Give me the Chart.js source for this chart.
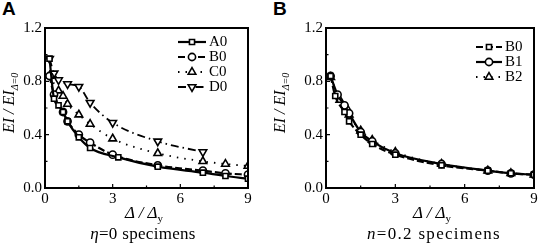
<!DOCTYPE html>
<html>
<head>
<meta charset="utf-8">
<script src="https://cdn.jsdelivr.net/npm/chart.js@4.4.1/dist/chart.umd.min.js"></script>
<style>
  body { margin:0; width:540px; height:251px; background:#fff; overflow:hidden; position:relative; font-family:"Liberation Serif", "Times New Roman", serif; }
  .cv { position:absolute; top:0; }
  .lbl { position:absolute; font-family:"Liberation Sans", Arial, sans-serif; font-weight:bold; font-size:19px; top:-2px; }
  .xt { position:absolute; top:203px; width:200px; text-align:center; font-size:17px; font-style:italic; }
  .xt sub { font-style:normal; font-size:11px; }
  .yt { position:absolute; transform-origin:0 0; white-space:nowrap; font-size:16px; font-style:italic; }
  .yt sub { font-size:10px; }
  .cap { position:absolute; top:224px; width:260px; text-align:center; font-size:17px; letter-spacing:0.3px; }
</style>
</head>
<body>
<div class="lbl" style="left:2px">A</div>
<div class="lbl" style="left:273px">B</div>
<canvas id="chartA" class="cv" style="left:0" width="270" height="210"></canvas>
<canvas id="chartB" class="cv" style="left:270px" width="270" height="210"></canvas>
<div class="yt" style="left:0px;top:133px;transform:rotate(-90deg)">EI / EI<sub>Δ=0</sub></div>
<div class="yt" style="left:271px;top:133px;transform:rotate(-90deg)">EI / EI<sub>Δ=0</sub></div>
<div class="xt" style="left:44px">Δ / Δ<sub>y</sub></div>
<div class="xt" style="left:332px">Δ / Δ<sub>y</sub></div>
<div class="cap" style="left:13px"><i>η</i>=0 specimens</div>
<div class="cap" style="left:304px;letter-spacing:1.3px"><i>n</i>=0.2 specimens</div>
<script>
// panel A (eta = 0)
const a0X = [0.2, 0.4, 0.6, 0.8, 1.0, 1.5, 2, 3.25, 5, 7, 8, 9];
const a0Y = [0.97, 0.67, 0.62, 0.57, 0.50, 0.38, 0.30, 0.23, 0.16, 0.115, 0.09, 0.07];
const b0X = [0.2, 0.4, 0.8, 1.0, 1.5, 2, 3, 5, 7, 8, 9];
const b0Y = [0.84, 0.70, 0.57, 0.50, 0.40, 0.34, 0.25, 0.17, 0.13, 0.11, 0.10];
const c0X = [0.2, 0.6, 0.8, 1.0, 1.5, 2, 3, 5, 7, 8, 9];
const c0Y = [0.84, 0.73, 0.69, 0.63, 0.55, 0.48, 0.37, 0.26, 0.20, 0.18, 0.165];
const d0X = [0.2, 0.4, 0.6, 1.0, 1.5, 2, 3, 5, 7];
const d0Y = [0.97, 0.86, 0.81, 0.78, 0.76, 0.64, 0.49, 0.35, 0.27];
// panel B (n = 0.2)
const bb0X = [0.2, 0.4, 0.8, 1.0, 1.5, 2, 3, 5, 7, 8, 9];
const bb0Y = [0.84, 0.69, 0.57, 0.50, 0.40, 0.33, 0.25, 0.17, 0.13, 0.11, 0.10];
const b1X = [0.2, 0.5, 0.8, 1.0, 1.5, 2, 3, 5, 7, 8, 9];
const b1Y = [0.84, 0.70, 0.62, 0.56, 0.42, 0.35, 0.26, 0.18, 0.13, 0.11, 0.10];
const b2X = [0.2, 0.6, 0.9, 1.0, 1.5, 2, 3, 5, 7, 8, 9];
const b2Y = [0.83, 0.66, 0.60, 0.55, 0.43, 0.36, 0.27, 0.18, 0.13, 0.11, 0.10];

const xTicks = [0, 3, 6, 9];
const yTicks = [0, 0.4, 0.8, 1.2];
const xMinor = [1.5, 4.5, 7.5];
const yMinor = [0.2, 0.6, 1.0];

const FONT = "'Liberation Serif', 'Times New Roman', serif";

function pts(xs, ys) { return xs.map((x, i) => ({x: x, y: ys[i]})); }

function series(label, xs, ys, marker, dash, width) {
    return {
        label: label,
        data: pts(xs, ys),
        borderColor: '#000',
        borderWidth: width,
        borderDash: dash,
        backgroundColor: '#fff',
        pointStyle: marker.style,
        rotation: marker.rot || 0,
        pointRadius: marker.r,
        pointBorderWidth: 1.6,
        pointBackgroundColor: '#fff',
        pointBorderColor: '#000',
        tension: 0.35,
        cubicInterpolationMode: 'monotone',
        fill: false
    };
}

const SQ = {style: 'rect', r: 3.6};
const CI = {style: 'circle', r: 3.6};
const TU = {style: 'triangle', r: 4.4};
const TD = {style: 'triangle', r: 4.4, rot: 180};

// frame, inward ticks and legend
const framePlugin = {
    id: 'frame',
    afterDraw(chart, args, opts) {
        const ctx = chart.ctx;
        const a = chart.chartArea;
        const xs = chart.scales.x, ys = chart.scales.y;
        ctx.save();
        ctx.strokeStyle = '#000';
        ctx.lineWidth = 2;
        ctx.strokeRect(a.left, a.top, a.right - a.left, a.bottom - a.top);
        ctx.lineWidth = 1.2;
        ctx.beginPath();
        xTicks.forEach(v => { const p = xs.getPixelForValue(v); ctx.moveTo(p, a.bottom); ctx.lineTo(p, a.bottom - 4); });
        xMinor.forEach(v => { const p = xs.getPixelForValue(v); ctx.moveTo(p, a.bottom); ctx.lineTo(p, a.bottom - 2.5); });
        yTicks.forEach(v => { const p = ys.getPixelForValue(v); ctx.moveTo(a.left, p); ctx.lineTo(a.left + 4, p); });
        yMinor.forEach(v => { const p = ys.getPixelForValue(v); ctx.moveTo(a.left, p); ctx.lineTo(a.left + 2.5, p); });
        ctx.stroke();

        // legend: line - marker - line, then text
        const lg = opts.legend;
        chart.data.datasets.forEach((ds, i) => {
            const y = lg.y + i * lg.step;
            ctx.strokeStyle = '#000';
            ctx.lineWidth = ds.borderWidth;
            ctx.setLineDash(ds.borderDash || []);
            ctx.beginPath();
            ctx.moveTo(lg.x, y); ctx.lineTo(lg.x + lg.len, y);
            ctx.stroke();
            ctx.setLineDash([]);
            ctx.fillStyle = '#fff';
            ctx.lineWidth = 1.6;
            Chart.helpers.drawPoint(ctx, {pointStyle: ds.pointStyle, rotation: ds.rotation, radius: ds.pointRadius, borderWidth: 1.6},
                lg.x + lg.len / 2, y);
            ctx.fillStyle = '#000';
            ctx.font = '15px ' + FONT;
            ctx.textBaseline = 'middle';
            ctx.fillText(ds.label, lg.x + lg.len + 3, y + 0.5);
        });
        ctx.restore();
    }
};

function makePanel(id, datasets, legend, yWidth, rightPad) {
    return new Chart(document.getElementById(id), {
        type: 'line',
        data: {datasets: datasets},
        options: {
            responsive: false,
            animation: false,
            layout: {padding: {top: 28, right: rightPad, left: 0, bottom: 0}},
            plugins: {legend: {display: false}, tooltip: {enabled: false}, frame: {legend: legend}},
            scales: {
                x: {
                    type: 'linear', min: 0, max: 9,
                    afterBuildTicks: s => { s.ticks = xTicks.map(v => ({value: v})); },
                    afterFit: s => { s.height = 22; },
                    grid: {display: false, drawTicks: false},
                    border: {display: false},
                    ticks: {color: '#000', padding: 2, font: {family: FONT, size: 15}, maxRotation: 0}
                },
                y: {
                    type: 'linear', min: 0, max: 1.2,
                    afterBuildTicks: s => { s.ticks = yTicks.map(v => ({value: v})); },
                    afterFit: s => { s.width = yWidth; },
                    grid: {display: false, drawTicks: false},
                    border: {display: false},
                    ticks: {color: '#000', padding: 3, font: {family: FONT, size: 15},
                        callback: v => v.toFixed(1)}
                }
            }
        },
        plugins: [framePlugin]
    });
}

function drawAll() {
    makePanel('chartA', [
        series('A0', a0X, a0Y, SQ, [], 2.2),
        series('B0', b0X, b0Y, CI, [7, 3], 2.2),
        series('C0', c0X, c0Y, TU, [1.5, 6], 1.8),
        series('D0', d0X, d0Y, TD, [8, 4, 1.5, 4], 1.8)
    ], {x: 178, y: 42, step: 15, len: 28}, 45, 22);

    makePanel('chartB', [
        series('B0', bb0X, bb0Y, SQ, [7, 3], 2.2),
        series('B1', b1X, b1Y, CI, [], 2.2),
        series('B2', b2X, b2Y, TU, [1.5, 6], 1.8)
    ], {x: 206, y: 47, step: 15, len: 26}, 56, 3);
}

if (document.fonts && document.fonts.load) {
    document.fonts.load('15px "Liberation Serif"').then(drawAll, drawAll);
} else {
    drawAll();
}
</script>
</body>
</html>
